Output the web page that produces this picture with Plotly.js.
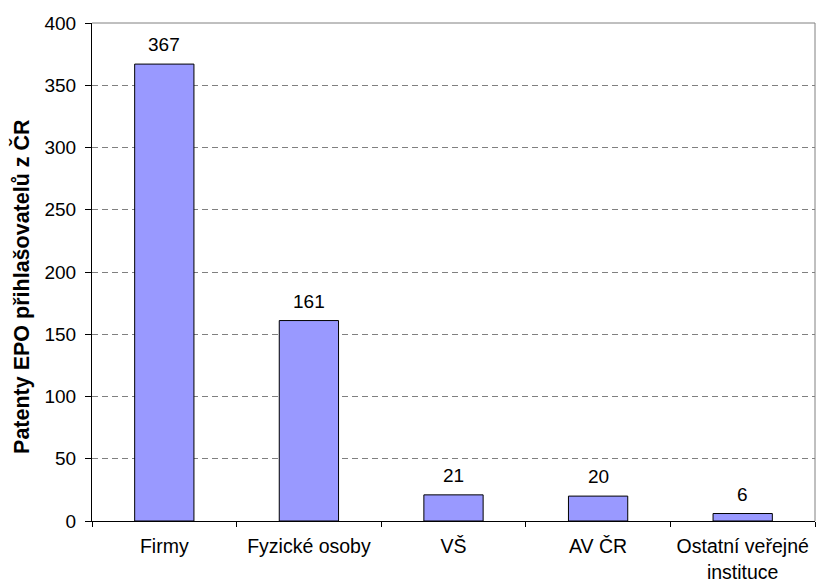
<!DOCTYPE html>
<html>
<head>
<meta charset="utf-8">
<script src="https://cdn.plot.ly/plotly-3.0.1.min.js"></script>
<style>html,body{margin:0;padding:0;background:#fff;}#chart{width:816px;height:583px;}</style>
</head>
<body>
<div id="chart"></div>
<script>
const categories = ["Firmy", "Fyzické osoby", "VŠ", "AV ČR", "Ostatní veřejné<br>instituce"];
const values = [367, 161, 21, 20, 6];
const yTickValues = [0, 50, 100, 150, 200, 250, 300, 350, 400];
const yTitle = "Patenty EPO přihlašovatelů z ČR";

const font = "Liberation Sans, Arial, sans-serif";
const fs = 19;

const trace = {
  type: "bar",
  x: categories,
  y: values,
  marker: {color: "#9999FF", line: {color: "#000000", width: 1}},
  hoverinfo: "x+y"
};

const annotations = categories.map((c, i) => ({
  x: c, y: values[i], xref: "x", yref: "y",
  text: String(values[i]), showarrow: false,
  yanchor: "bottom", yshift: 7,
  font: {family: font, size: fs, color: "#000"}
}));

annotations.push({
  text: yTitle, xref: "paper", yref: "paper",
  x: -0.0968, y: 0.470, xanchor: "center", yanchor: "middle",
  textangle: -90, showarrow: false,
  font: {family: font, size: 21.5, color: "#000", weight: "bold"}
});

const layout = {
  width: 816, height: 583,
  margin: {l: 92, r: 1, t: 23, b: 62},
  paper_bgcolor: "#fff", plot_bgcolor: "#fff",
  showlegend: false,
  bargap: 0.59,
  font: {family: font, size: fs, color: "#000"},
  xaxis: {
    type: "category",
    showline: true, linecolor: "#000", linewidth: 1,
    ticks: "outside", tickson: "boundaries", ticklen: 5, tickcolor: "#000",
    ticklabelstandoff: 8, tickangle: 0,
    showgrid: false, zeroline: false,
    tickfont: {family: font, size: 19.5, color: "#000"},
    automargin: false,
    fixedrange: true
  },
  yaxis: {
    range: [0, 400],
    tickvals: yTickValues,
    showline: true, linecolor: "#000", linewidth: 1,
    ticks: "outside", ticklen: 6, tickcolor: "#000",
    ticklabelstandoff: 5,
    showgrid: true, gridcolor: "#808080", gridwidth: 1, griddash: "6px,4px",
    zeroline: false,
    tickfont: {family: font, size: fs, color: "#000"},
    automargin: false,
    fixedrange: true
  },
  shapes: [
    {type: "line", xref: "paper", yref: "paper", x0: 0, x1: 1, y0: 1, y1: 1, line: {color: "#808080", width: 1}},
    {type: "line", xref: "paper", yref: "paper", x0: 1, x1: 1, y0: 0, y1: 1, line: {color: "#808080", width: 1}}
  ],
  annotations: annotations
};

Plotly.newPlot("chart", [trace], layout, {displayModeBar: false, staticPlot: true});
</script>
</body>
</html>
